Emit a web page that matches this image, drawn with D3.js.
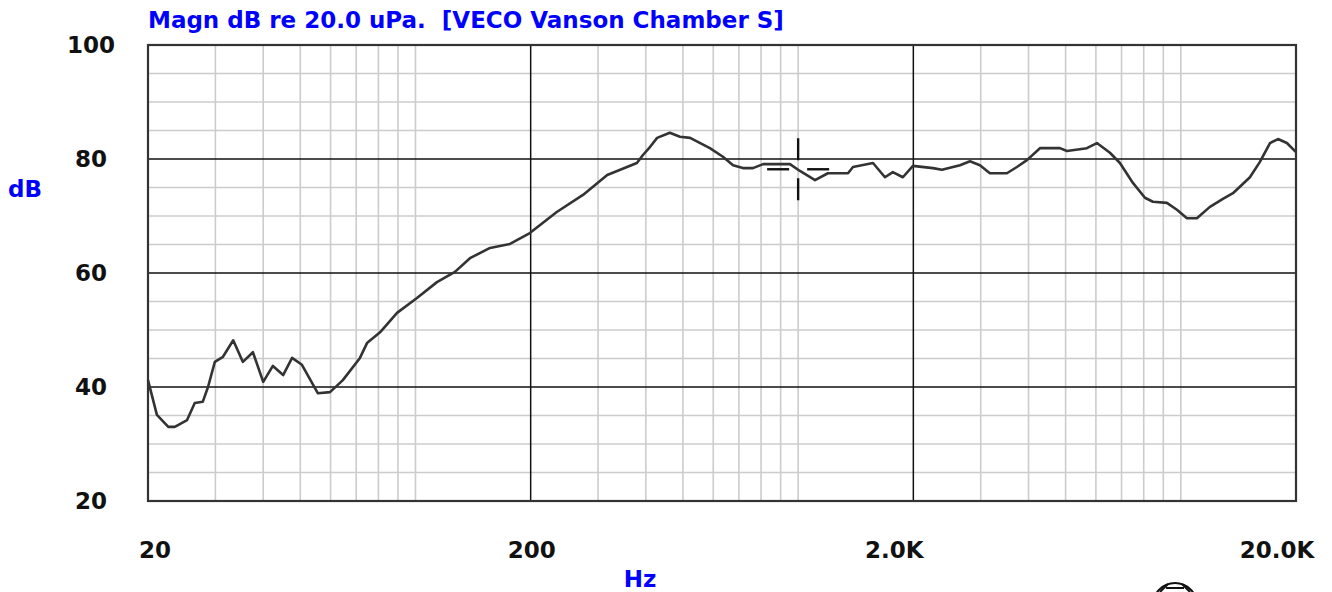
<!DOCTYPE html>
<html><head><meta charset="utf-8">
<script src="https://cdn.jsdelivr.net/npm/d3@7"></script>
<style>html,body{margin:0;padding:0;background:#fff;overflow:hidden}</style>
</head><body>
<svg id="chart" width="1332" height="592"></svg>
<script>
// ---- data ----
const freqHz = [20,21.1,22.6,23.5,25.3,26.5,27.8,28.7,29.9,31.4,33.4,35.4,37.6,40.0,42.4,45.1,47.6,50.5,55.6,59.8,64.6,71.6,74.7,80.8,89.5,100.9,113.8,126.8,138.8,156.6,176.6,199,234,274,317,379,393,410,428,462,491,522,588,636,676,717,762,810,952,1011,1107,1196,1350,1391,1569,1686,1768,1878,1995,2250,2376,2648,2812,2986,3170,3512,3730,3962,4284,4831,5040,5683,6036,6528,6933,7497,8058,8455,9198,9770,10375,11017,11914,12884,13688,15157,16096,17101,17944,18932,20000];
const magDb = [41.2,35.1,33.0,33.0,34.2,37.2,37.4,40.0,44.4,45.3,48.2,44.4,46.1,40.9,43.7,42.1,45.1,43.9,38.9,39.1,41.2,45.1,47.7,49.6,53.0,55.6,58.4,60.2,62.6,64.4,65.1,67.0,70.7,73.7,77.2,79.3,80.7,82.1,83.7,84.6,83.9,83.7,81.9,80.4,78.9,78.4,78.4,79.1,79.1,77.9,76.3,77.5,77.5,78.6,79.3,76.8,77.7,76.8,78.8,78.4,78.1,78.9,79.6,78.9,77.5,77.5,78.6,79.8,81.9,81.9,81.4,81.9,82.8,81.1,79.3,75.8,73.2,72.5,72.3,71.1,69.6,69.6,71.6,73.0,74.0,76.8,79.5,82.8,83.5,82.8,81.2];
const yTicks = [20,40,60,80,100];
const xTicks = [20,200,2000,20000];
const xTickLabels = ["20","200","2.0K","20.0K"];
const cursorFreq = [1000];
const cursorDb = [78.2];
const titleText = "Magn dB re 20.0 uPa.  [VECO Vanson Chamber S]";

// ---- layout ----
const L = 148, R = 1296, T = 45, B = 501;
const x = d3.scaleLog().domain([20, 20000]).range([L, R]);
const y = d3.scaleLinear().domain([20, 100]).range([B, T]);
const svg = d3.select("#chart");
const font = "'DejaVu Sans', sans-serif";

// minor vertical grid
const minorF = [];
for (let dec = 10; dec <= 10000; dec *= 10)
  for (let k = 1; k <= 9; k++) {
    const f = k * dec;
    if (f > 20 && f < 20000 && f !== 200 && f !== 2000) minorF.push(f);
  }
svg.append("g").selectAll("line").data(minorF).join("line")
  .attr("x1", d => x(d)).attr("x2", d => x(d)).attr("y1", T).attr("y2", B)
  .attr("stroke", "#cccccc").attr("stroke-width", 1.6);
// minor horizontal grid (5 dB)
const minorDb = d3.range(25, 100, 5).filter(d => d % 20 !== 0);
svg.append("g").selectAll("line").data(minorDb).join("line")
  .attr("x1", L).attr("x2", R).attr("y1", d => y(d)).attr("y2", d => y(d))
  .attr("stroke", "#cccccc").attr("stroke-width", 1.6);
// major grid
svg.append("g").selectAll("line").data([200, 2000]).join("line")
  .attr("x1", d => x(d)).attr("x2", d => x(d)).attr("y1", T).attr("y2", B)
  .attr("stroke", "#111").attr("stroke-width", 1.5);
svg.append("g").selectAll("line").data([40, 60, 80]).join("line")
  .attr("x1", L).attr("x2", R).attr("y1", d => y(d)).attr("y2", d => y(d))
  .attr("stroke", "#111").attr("stroke-width", 1.5);
// frame
svg.append("rect").attr("x", L).attr("y", T).attr("width", R - L).attr("height", B - T)
  .attr("fill", "none").attr("stroke", "#333").attr("stroke-width", 2.2);

// curve
const line = d3.line().x((d, i) => x(freqHz[i])).y((d, i) => y(magDb[i])).curve(d3.curveLinear);
svg.append("path").datum(magDb).attr("d", line)
  .attr("fill", "none").attr("stroke", "#333").attr("stroke-width", 2.6).attr("stroke-linejoin", "round");

// cursor crosshair
const cx = x(cursorFreq[0]), cy = y(cursorDb[0]);
const gap = 9, arm = 31;
const cur = svg.append("g").attr("stroke", "#111").attr("stroke-width", 2.4);
[[cx, cy - arm, cx, cy - gap], [cx, cy + gap, cx, cy + arm], [cx - arm, cy, cx - gap, cy], [cx + gap, cy, cx + arm, cy]]
  .forEach(s => cur.append("line").attr("x1", s[0]).attr("y1", s[1]).attr("x2", s[2]).attr("y2", s[3]));

// y tick labels
svg.append("g").selectAll("text").data(yTicks).join("text")
  .attr("x", 91).attr("y", d => y(d)).attr("dy", "0.36em").attr("text-anchor", "middle")
  .attr("font-family", font).attr("font-weight", "bold").attr("font-size", 23).attr("fill", "#111")
  .text(d => d);
// x tick labels
const xLabelShift = [7, 1, -19, -19];
svg.append("g").selectAll("text").data(xTicks).join("text")
  .attr("x", (d, i) => x(d) + xLabelShift[i]).attr("y", 558).attr("text-anchor", "middle")
  .attr("font-family", font).attr("font-weight", "bold").attr("font-size", 23).attr("fill", "#111")
  .text((d, i) => xTickLabels[i]);

// titles
svg.append("text").attr("x", 148).attr("y", 28).attr("font-family", font).attr("font-weight", "bold")
  .attr("font-size", 23).attr("fill", "#0000ff").style("white-space", "pre").text(titleText);
svg.append("text").attr("x", 25).attr("y", 189).attr("dy", "0.36em").attr("text-anchor", "middle")
  .attr("font-family", font).attr("font-weight", "bold").attr("font-size", 23).attr("fill", "#0000ff").text("dB");
svg.append("text").attr("x", 640).attr("y", 587).attr("text-anchor", "middle")
  .attr("font-family", font).attr("font-weight", "bold").attr("font-size", 23).attr("fill", "#0000ff").text("Hz");

// partial logo at bottom right
const logo = svg.append("g").attr("fill", "none").attr("stroke", "#111").attr("stroke-width", 2);
logo.append("circle").attr("cx", 1175).attr("cy", 605).attr("r", 22);
logo.append("path").attr("d", "M1160,592 L1168,584 M1190,592 L1182,584 M1166,588 L1184,588");
</script>
</body></html>
